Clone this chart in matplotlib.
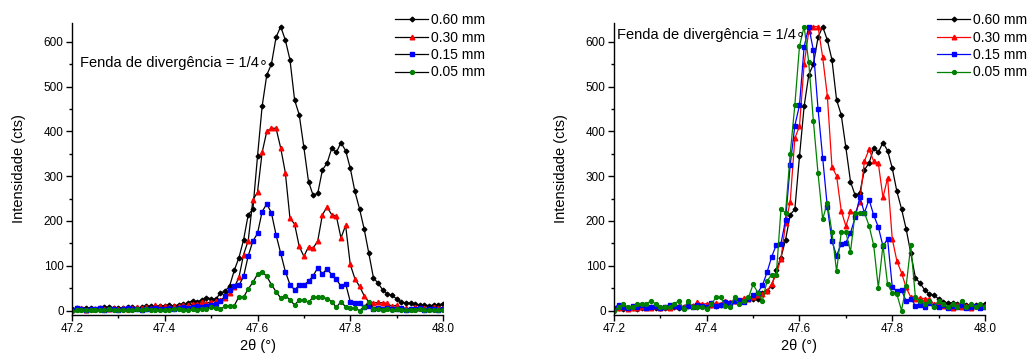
import numpy as np
import matplotlib
matplotlib.use('Agg')
import matplotlib.pyplot as plt
from matplotlib.ticker import MultipleLocator

plt.rcParams['font.family'] = ['Liberation Sans', 'DejaVu Sans']

# 2theta scan, 47.20 .. 48.00 deg in 0.01 steps
two_theta = np.linspace(47.2, 48.0, 81)

# intensities (cts), receiving slit widths
i_060 = [4, 5, 3, 6, 5, 4, 5, 7, 8, 6, 5, 6, 7, 8, 6, 7, 9, 10, 8, 9, 11, 12, 10,
         13, 14, 17, 22, 19, 24, 29, 26, 25, 39, 43, 55, 90, 118, 158, 214, 226,
         344, 456, 526, 550, 610, 634, 604, 560, 470, 437, 364, 288, 257, 262,
         314, 329, 362, 353, 375, 357, 318, 266, 227, 182, 128, 73, 61, 46, 37,
         34, 26, 18, 17, 17, 14, 13, 12, 11, 12, 13, 15]
i_030 = [4, 3, 5, 2, 4, 3, 5, 4, 3, 6, 4, 5, 3, 6, 7, 5, 8, 6, 12, 9, 10, 8, 11,
         10, 13, 12, 14, 15, 18, 16, 20, 22, 24, 28, 38, 52, 74, 125, 156, 247,
         264, 353, 400, 407, 407, 363, 308, 206, 193, 143, 121, 142, 139, 156,
         214, 231, 214, 211, 162, 190, 103, 71, 54, 33, 19, 17, 18, 17, 16, 9,
         12, 6, 5, 4, 8, 5, 6, 4, 7, 5, 6]
i_015 = [2, 5, 3, 2, 4, 3, 5, 2, 3, 4, 2, 3, 5, 4, 3, 2, 4, 3, 5, 4, 3, 6, 4, 5,
         7, 6, 8, 9, 7, 10, 13, 15, 21, 32, 45, 55, 56, 76, 122, 155, 172, 221,
         238, 218, 169, 128, 87, 58, 46, 56, 57, 65, 78, 95, 82, 93, 80, 70, 54,
         60, 20, 16, 17, 8, 10, 4, 5, 3, 6, 4, 3, 5, 2, 4, 3, 5, 2, 3, 4, 2, 3]
i_005 = [0, 1, 2, 1, 1, 2, 2, 2, 3, 2, 1, 1, 1, 2, 3, 0.5, 3, 1, 1, 1, 0.5, 2,
         4, 4, 1.5, 1, 4, 2, 3, 4, 8, 5.5, 3, 9, 11, 11, 31, 30, 48, 63, 81, 87,
         76, 58, 42, 28, 33, 24, 12, 24, 24, 18, 30, 30, 30, 26, 20, 7, 20, 8,
         5.5, 5, 0, 7.5, 20, 4, 3, 2, 3, 1, 3, 2, 1, 2, 1, 3, 1, 2, 1, 2, 1]

labels = ['0.60 mm', '0.30 mm', '0.15 mm', '0.05 mm']
series = [i_060, i_030, i_015, i_005]
colors = ['black', 'red', 'blue', 'green']
markers = ['D', '^', 's', 'o']
msizes = [2.4, 3.3, 2.4, 2.8]

fig = plt.figure(figsize=(10.3, 3.56), dpi=100)
ax1 = fig.add_axes([0.0699, 0.1152, 0.3602, 0.8202])
ax2 = fig.add_axes([0.5961, 0.1152, 0.3602, 0.8202])

peak = max(i_060)
for y, lab, c, m, ms in zip(series, labels, colors, markers, msizes):
    y = np.array(y, dtype=float)
    # left: raw counts, black lines with coloured symbols
    ax1.plot(two_theta, y, color='black', lw=0.9, marker=m, ms=ms,
             mfc=c, mec=c, label=lab)
    # right: each curve scaled to the 0.60 mm maximum
    ax2.plot(two_theta, y * peak / y.max(), color=c, lw=0.9, marker=m, ms=ms,
             mfc=c, mec=c, label=lab)

for ax in (ax1, ax2):
    ax.set_xlim(47.2, 48.0)
    ax.set_ylim(-10, 642)
    ax.xaxis.set_major_locator(MultipleLocator(0.2))
    ax.xaxis.set_minor_locator(MultipleLocator(0.1))
    ax.yaxis.set_major_locator(MultipleLocator(100))
    ax.yaxis.set_minor_locator(MultipleLocator(50))
    ax.xaxis.set_major_formatter(plt.FormatStrFormatter('%.1f'))
    for s in ('top', 'right'):
        ax.spines[s].set_visible(False)
    for s in ('left', 'bottom'):
        ax.spines[s].set_linewidth(1.0)
    ax.tick_params(which='major', direction='out', length=4, width=1,
                   labelsize=8.5, pad=2)
    ax.tick_params(which='minor', direction='out', length=2.5, width=1)
    ax.set_ylabel('Intensidade (cts)', fontsize=10.5, labelpad=12.5)
    ax.set_xlabel('2θ (°)', fontsize=10.5, labelpad=2.5)
    ax.legend(loc='upper left', bbox_to_anchor=(0.871, 1.034), frameon=False,
              fontsize=10, borderpad=0, handlelength=2.4, handletextpad=0.2,
              labelspacing=0.25, borderaxespad=0)

ax1.text(0.022, 0.863, 'Fenda de divergência = 1/4∘', transform=ax1.transAxes,
         fontsize=10.5, va='center', ha='left')
ax2.text(0.008, 0.96, 'Fenda de divergência = 1/4∘', transform=ax2.transAxes,
         fontsize=10.5, va='center', ha='left')

fig.savefig('out.png', dpi=100)
